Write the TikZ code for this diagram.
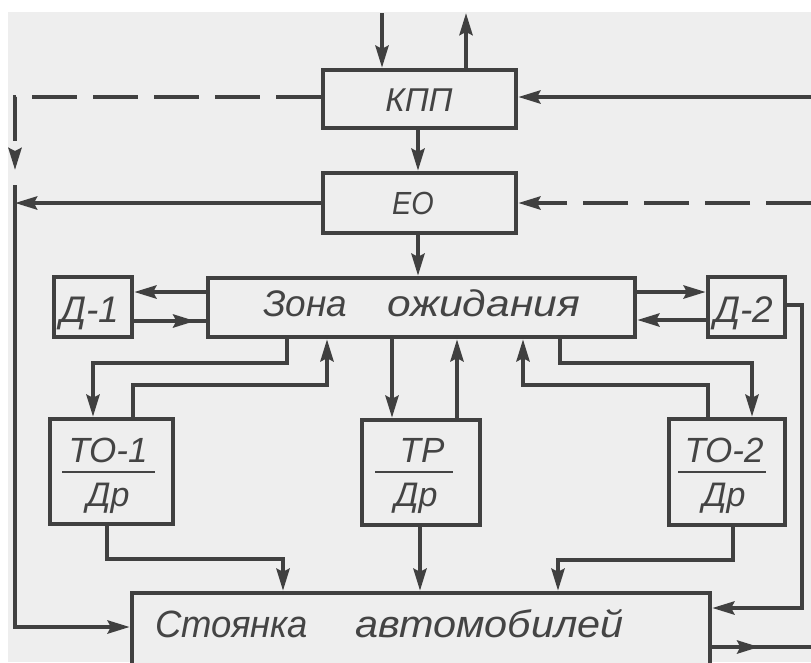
\documentclass[tikz,border=0pt]{standalone}
\usepackage{fontspec}
\usepackage{graphicx}
\setmainfont{Liberation Sans}
\usetikzlibrary{arrows.meta,decorations.markings,calc}
\definecolor{ink}{HTML}{404040}
\definecolor{paper}{HTML}{EEEEEE}
\definecolor{txt}{HTML}{444444}
\newcommand{\fs}[1]{\fontsize{#1}{#1}\selectfont\itshape}
\begin{document}
\begin{tikzpicture}[x=1pt,y=-1pt,
  box/.style={draw=ink, line width=4.5pt, fill=paper, inner sep=0pt},
  conn/.style={draw=ink, color=ink, line width=4pt},
  head/.style={-{Stealth[length=22pt,width=13pt,inset=3pt]}},
  dashline/.style={dash pattern=on 45pt off 16pt},
  tipat/.style={postaction={decorate}, decoration={markings, mark=at position #1 with {\arrow{Stealth[length=22pt,width=13pt,inset=3pt]}}}},
  lbl/.style={text=txt, inner sep=0pt, anchor=base},
  bar/.style={draw=txt, line width=1.8pt}
]
\useasboundingbox (0,0) rectangle (811,662);
\begin{scope}
\clip (0,0) rectangle (811,662);
\fill[white] (0,0) rectangle (811,662);
\fill[paper] (8,12) rectangle (811,662);

% boxes
\node[box, minimum width=193pt, minimum height=58pt] (kpp) at (419.5,99) {};
\node[box, minimum width=193pt, minimum height=60pt] (eo) at (419.5,203) {};
\node[box, minimum width=427pt, minimum height=59pt] (zona) at (421.5,307.5) {};
\node[box, minimum width=78pt, minimum height=60pt] (d1) at (93,307) {};
\node[box, minimum width=77pt, minimum height=60pt] (d2) at (746.5,307) {};
\node[box, minimum width=123pt, minimum height=105pt] (to1) at (111.5,471.5) {};
\node[box, minimum width=118pt, minimum height=105pt] (tr) at (421,472.5) {};
\node[box, minimum width=116pt, minimum height=106pt] (to2) at (727,472) {};
\node[box, minimum width=578pt, minimum height=79pt] (park) at (421,632.5) {};

% labels
\node[lbl] (tkpp) at (419,111) {\fs{33}КПП};
\node[lbl] (teo) at (413,214) {\fs{32}\scalebox{0.9}[1]{ЕО}};
\node[lbl] (tzona) at (421.5,316) {\fs{37}Зона\hspace{40pt}\scalebox{1.15}[1]{ожидания}};
\node[lbl] (td1) at (90,322) {\fs{37}Д-1};
\node[lbl] (td2) at (744,322) {\fs{37}Д-2};
\node[lbl] (tto1a) at (108,462) {\fs{35}ТО-1};
\node[lbl] (tto1b) at (108,506) {\fs{34}Др};
\node[lbl] (ttra) at (422,462) {\fs{35}ТР};
\node[lbl] (ttrb) at (416,506) {\fs{34}Др};
\node[lbl] (tto2a) at (724,462) {\fs{35}ТО-2};
\node[lbl] (tto2b) at (724,506) {\fs{34}Др};
\node[lbl, anchor=base west] (tpark) at (155,637) {\fs{38}\scalebox{0.96}[1]{Стоянка}\hspace{47pt}\scalebox{1.09}[1]{автомобилей}};

\draw[bar] (62,472) -- (155,472);
\draw[bar] (375,472) -- (453,472);
\draw[bar] (678,472) -- (766,472);

% coordinates
\coordinate (tin) at (382,13);
\coordinate (tout) at (466,13);
\coordinate (rk) at (811,97);
\coordinate (ldash) at (15,170);
\coordinate (re) at (811,203);
\coordinate (le) at (15,203);
\coordinate (lv) at (15,185);
\coordinate (lp) at (15,627);
\coordinate (rd) at (802,305);
\coordinate (pout) at (811,647);

% connectors
\draw[conn,head] (tin) -- (tin |- kpp.north);
\draw[conn,head] (tout |- kpp.north) -- (tout);
\draw[conn,head] (rk) -- (rk -| kpp.east);
\draw[conn,dashline,head] (kpp.west |- rk) -| (ldash);
\draw[conn,head] (418,0 |- kpp.south) -- (418,0 |- eo.north);
\draw[conn,dashline,head] (re) -- (eo.east);
\draw[conn,head] (eo.west) -- (le);
\draw[conn,head] (lv) -- (lp) -- (lp -| park.west);
\draw[conn,head] (418,0 |- eo.south) -- (418,0 |- zona.north);

\draw[conn,head] (zona.west |- 0,292) -- (d1.east |- 0,292);
\draw[conn,tipat=61pt] (d1.east |- 0,321) -- (zona.west |- 0,321);
\draw[conn,head] (zona.east |- 0,292) -- (d2.west |- 0,292);
\draw[conn,head] (d2.west |- 0,320) -- (zona.east |- 0,320);
\draw[conn,head] (d2.east |- rd) -- (rd) |- (park.east |- 0,608);

\draw[conn,head] (287,0 |- zona.south) -- (287,363) -| (93,0 |- to1.north);
\draw[conn,head] (133,0 |- to1.north) -- (133,385) -| (327,0 |- zona.south);
\draw[conn,head] (392,0 |- zona.south) -- (392,0 |- tr.north);
\draw[conn,head] (457,0 |- tr.north) -- (457,0 |- zona.south);
\draw[conn,head] (560,0 |- zona.south) -- (560,363) -| (752,0 |- to2.north);
\draw[conn,head] (708,0 |- to2.north) -- (708,385) -| (523,0 |- zona.south);

\draw[conn,head] (107,0 |- to1.south) -- (107,559) -| (283,0 |- park.north);
\draw[conn,head] (420,0 |- tr.south) -- (420,0 |- park.north);
\draw[conn,head] (733,0 |- to2.south) -- (733,560) -| (558,0 |- park.north);
\draw[conn,tipat=47pt] (park.east |- pout) -- (pout);
\end{scope}
\end{tikzpicture}
\end{document}
